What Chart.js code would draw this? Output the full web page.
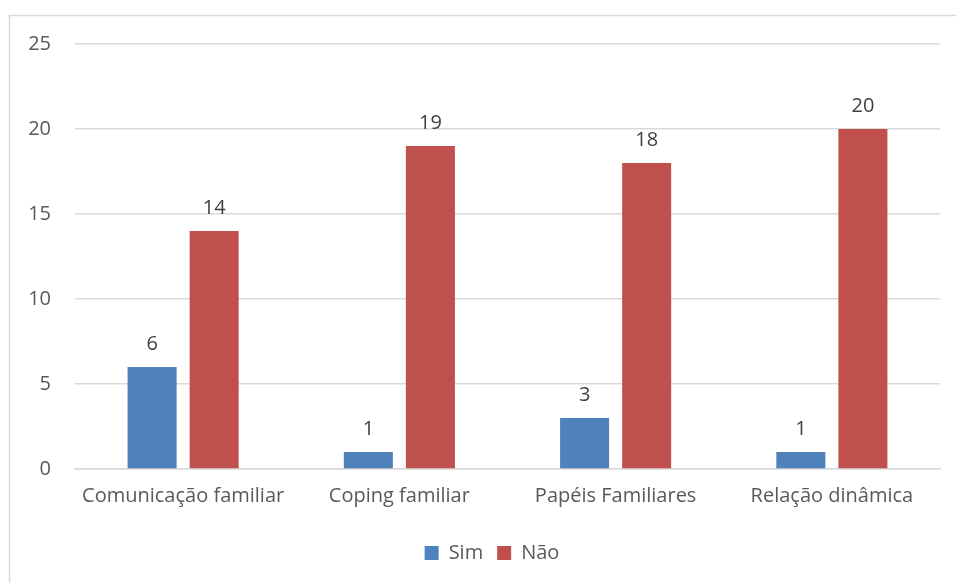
<!DOCTYPE html>
<html lang="pt">
<head>
    <meta charset="UTF-8">
    <title>Sim / Não por categoria</title>
    <script src="https://cdn.jsdelivr.net/npm/chart.js"></script>
    <style>
        body {
            margin: 0;
            background-color: white;
            overflow: hidden;
        }

        .wrap {
            position: relative;
            width: 956px;
            height: 583px;
        }
    </style>
</head>
<body>
    <div class="wrap">
        <canvas id="chart" width="956" height="583"></canvas>
    </div>

    <script>
        const categories = ['Comunicação familiar', 'Coping familiar', 'Papéis Familiares', 'Relação dinâmica'];
        const simValues = [6, 1, 3, 1];
        const naoValues = [14, 19, 18, 20];
        const yTicks = [0, 5, 10, 15, 20, 25];

        const textColor = '#595959';
        const fontFamily = '"Open Sans", "Liberation Sans", sans-serif';
        const fontSize = 20;

        // moldura cinza clara à volta do gráfico
        const framePlugin = {
            id: 'frame',
            beforeDraw(chart) {
                const ctx = chart.ctx;
                ctx.save();
                ctx.strokeStyle = '#d9d9d9';
                ctx.lineWidth = 1.5;
                ctx.strokeRect(9.5, 15.5, 1000, 600);
                ctx.restore();
            }
        };

        // a legenda fica centrada na moldura e não na área do gráfico
        const legendShift = {
            id: 'legendShift',
            afterLayout(chart) {
                if (chart.legend) {
                    chart.legend.left += 44;
                }
            }
        };

        // valores escritos por cima de cada barra
        const valueLabels = {
            id: 'valueLabels',
            afterDatasetsDraw(chart) {
                const ctx = chart.ctx;
                ctx.save();
                ctx.fillStyle = '#404040';
                ctx.font = fontSize + 'px ' + fontFamily;
                ctx.textAlign = 'center';
                ctx.textBaseline = 'alphabetic';
                chart.data.datasets.forEach((ds, i) => {
                    chart.getDatasetMeta(i).data.forEach((bar, j) => {
                        ctx.fillText(ds.data[j], bar.x, bar.y - 17);
                    });
                });
                ctx.restore();
            }
        };

        new Chart(document.getElementById('chart'), {
            type: 'bar',
            data: {
                labels: categories,
                datasets: [
                    { label: 'Sim', data: simValues, backgroundColor: '#4F81BD' },
                    { label: 'Não', data: naoValues, backgroundColor: '#C0504D' }
                ]
            },
            options: {
                responsive: false,
                animation: false,
                categoryPercentage: 0.574,
                barPercentage: 0.79,
                layout: { padding: { top: 44, right: 16, left: 0, bottom: 10 } },
                plugins: {
                    tooltip: { enabled: false },
                    legend: {
                        position: 'bottom',
                        labels: {
                            boxWidth: 14,
                            boxHeight: 14,
                            padding: 14,
                            color: textColor,
                            font: { family: fontFamily, size: fontSize }
                        }
                    }
                },
                scales: {
                    x: {
                        grid: { display: false, drawTicks: false },
                        border: { color: '#d9d9d9', width: 1.5 },
                        ticks: {
                            color: textColor,
                            padding: 15,
                            font: { family: fontFamily, size: fontSize }
                        },
                        afterFit(scale) { scale.height = 60; }
                    },
                    y: {
                        min: 0,
                        max: 25,
                        afterBuildTicks(scale) {
                            scale.ticks = yTicks.map(v => ({ value: v }));
                        },
                        grid: { color: '#d9d9d9', lineWidth: 1.5, drawTicks: false },
                        border: { display: false },
                        ticks: {
                            color: textColor,
                            padding: 24,
                            font: { family: fontFamily, size: fontSize }
                        },
                        afterFit(scale) { scale.width = 75; }
                    }
                }
            },
            plugins: [framePlugin, legendShift, valueLabels]
        });
    </script>
</body>
</html>
